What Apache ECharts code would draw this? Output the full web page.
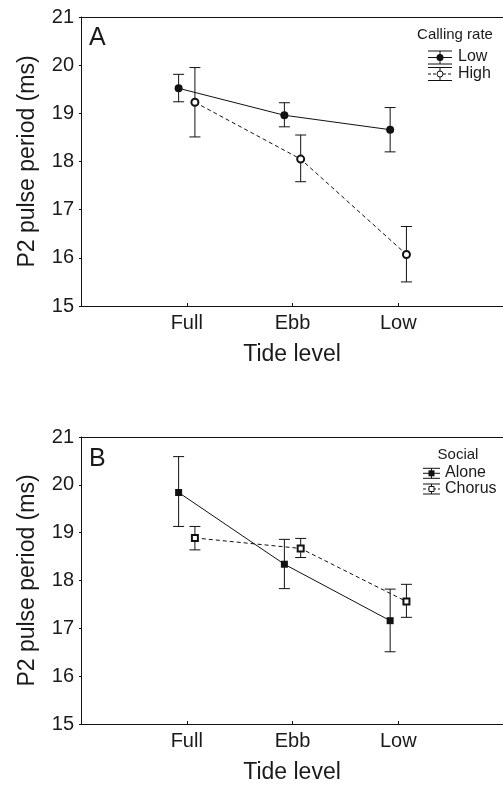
<!DOCTYPE html>
<html>
<head>
<meta charset="utf-8">
<script src="https://cdn.jsdelivr.net/npm/echarts@6/dist/echarts.min.js"></script>
<style>
html,body{margin:0;padding:0;background:#fff;}
#chart{width:503px;height:785px;}
</style>
</head>
<body>
<div id="chart"></div>
<script>
// ---- Data ----
var tideLevels = ['Full', 'Ebb', 'Low'];
var yTicks = [15, 16, 17, 18, 19, 20, 21];

// Panel A: Calling rate
var rateLowMean  = [19.52, 18.96, 18.66];
var rateLowUpper = [19.81, 19.22, 19.12];
var rateLowLower = [19.24, 18.72, 18.20];
var rateHighMean  = [19.23, 18.05, 16.07];
var rateHighUpper = [19.95, 18.55, 16.65];
var rateHighLower = [18.51, 17.58, 15.50];

// Panel B: Social
var aloneMean  = [19.84, 18.34, 17.16];
var aloneUpper = [20.59, 18.86, 17.82];
var aloneLower = [19.13, 17.83, 16.51];
var chorusMean  = [18.89, 18.67, 17.56];
var chorusUpper = [19.13, 18.88, 17.92];
var chorusLower = [18.64, 18.48, 17.23];

// ---- Build ----
var FONT = 'Liberation Sans, Arial, sans-serif';
var TXT = '#1a1a1a';
var OFF = 0.077;
var XMAX = 3.99; // plot is cut by the right edge of the figure

function pts(mean, off) {
  return mean.map(function (v, i) { return [i + 1 + off, v]; });
}
function bars(lo, hi, off) {
  return lo.map(function (v, i) { return [i + 1 + off, v, hi[i]]; });
}
function errRender(params, api) {
  var x = api.value(0);
  var p1 = api.coord([x, api.value(2)]);
  var p0 = api.coord([x, api.value(1)]);
  var w = 5.5;
  var st = { stroke: '#111', lineWidth: 1 };
  return {
    type: 'group',
    children: [
      { type: 'line', shape: { x1: p1[0], y1: p1[1], x2: p0[0], y2: p0[1] }, style: st },
      { type: 'line', shape: { x1: p1[0] - w, y1: p1[1], x2: p1[0] + w, y2: p1[1] }, style: st },
      { type: 'line', shape: { x1: p0[0] - w, y1: p0[1], x2: p0[0] + w, y2: p0[1] }, style: st }
    ]
  };
}

function xAxis(gi) {
  return {
    type: 'value', gridIndex: gi, min: 0, max: XMAX, interval: 1,
    name: 'Tide level', nameLocation: 'middle', nameGap: 37,
    nameTextStyle: { fontFamily: FONT, fontSize: 23, color: TXT },
    axisLine: { show: true, onZero: false, lineStyle: { color: '#111', width: 1 } },
    axisTick: { show: true, inside: true, length: 3, lineStyle: { color: '#111' } },
    axisLabel: {
      fontFamily: FONT, fontSize: 20, color: TXT, margin: 7, showMaxLabel: false,
      formatter: function (v) { return tideLevels[v - 1] || ''; }
    },
    splitLine: { show: false }
  };
}
function xAxisTop(gi) {
  return {
    type: 'value', gridIndex: gi, position: 'top', min: 0, max: XMAX,
    axisLine: { show: true, onZero: false, lineStyle: { color: '#111', width: 1 } },
    axisTick: { show: false }, axisLabel: { show: false }, splitLine: { show: false }
  };
}
function yAxis(gi) {
  return {
    type: 'value', gridIndex: gi, min: yTicks[0], max: yTicks[yTicks.length - 1], interval: 1,
    name: 'P2 pulse period (ms)', nameLocation: 'middle', nameGap: 42, nameRotate: 90,
    nameTextStyle: { fontFamily: FONT, fontSize: 23, color: TXT },
    axisLine: { show: true, lineStyle: { color: '#111', width: 1 } },
    axisTick: { show: true, length: 2, lineStyle: { color: '#111' } },
    axisLabel: { fontFamily: FONT, fontSize: 20, color: TXT, margin: 7 },
    splitLine: { show: false }
  };
}

var solid = { color: '#111', width: 1 };
var dashed = { color: '#111', width: 1, type: [4, 3] };

var series = [
  // Panel A
  { type: 'custom', xAxisIndex: 0, yAxisIndex: 0, renderItem: errRender, data: bars(rateLowLower, rateLowUpper, -OFF), z: 1 },
  { type: 'custom', xAxisIndex: 0, yAxisIndex: 0, renderItem: errRender, data: bars(rateHighLower, rateHighUpper, OFF), z: 1 },
  { type: 'line', name: 'Low', xAxisIndex: 0, yAxisIndex: 0, data: pts(rateLowMean, -OFF),
    symbol: 'circle', symbolSize: 8, lineStyle: solid, itemStyle: { color: '#111' }, z: 3 },
  { type: 'line', name: 'High', xAxisIndex: 0, yAxisIndex: 0, data: pts(rateHighMean, OFF),
    symbol: 'emptyCircle', symbolSize: 7, lineStyle: dashed, itemStyle: { color: '#111', borderColor: '#111', borderWidth: 1 }, z: 3 },
  // Panel B
  { type: 'custom', xAxisIndex: 2, yAxisIndex: 1, renderItem: errRender, data: bars(aloneLower, aloneUpper, -OFF), z: 1 },
  { type: 'custom', xAxisIndex: 2, yAxisIndex: 1, renderItem: errRender, data: bars(chorusLower, chorusUpper, OFF), z: 1 },
  { type: 'line', name: 'Alone', xAxisIndex: 2, yAxisIndex: 1, data: pts(aloneMean, -OFF),
    symbol: 'rect', symbolSize: 7, lineStyle: solid, itemStyle: { color: '#111' }, z: 3 },
  { type: 'line', name: 'Chorus', xAxisIndex: 2, yAxisIndex: 1, data: pts(chorusMean, OFF),
    symbol: 'emptyRect', symbolSize: 6, lineStyle: dashed, itemStyle: { color: '#111', borderColor: '#111', borderWidth: 1 }, z: 3 }
];

// Legend drawing helpers (graphic)
function hline(x1, x2, y, dash) {
  return { type: 'line', shape: { x1: x1, y1: y, x2: x2, y2: y },
    style: { stroke: '#111', lineWidth: 1, lineDash: dash ? [3, 2] : null } };
}
function vline(x, y1, y2) {
  return { type: 'line', shape: { x1: x, y1: y1, x2: x, y2: y2 }, style: { stroke: '#111', lineWidth: 1 } };
}
function legendIcon(x1, x2, yc, h, dash, marker) {
  var cx = (x1 + x2) / 2;
  var els = [hline(x1, x2, yc - h, false), hline(x1, x2, yc + h, false), hline(x1, x2, yc, dash), vline(cx, yc - h, yc + h)];
  if (marker === 'fc') els.push({ type: 'circle', shape: { cx: cx, cy: yc, r: 3.5 }, style: { fill: '#111' } });
  if (marker === 'oc') els.push({ type: 'circle', shape: { cx: cx, cy: yc, r: 3 }, style: { fill: '#fff', stroke: '#111', lineWidth: 1 } });
  if (marker === 'fs') els.push({ type: 'rect', shape: { x: cx - 3, y: yc - 3, width: 6, height: 6 }, style: { fill: '#111' } });
  if (marker === 'os') els.push({ type: 'rect', shape: { x: cx - 2.5, y: yc - 2.5, width: 5, height: 5 }, style: { fill: '#fff', stroke: '#111', lineWidth: 1 } });
  return els;
}
function txt(s, x, y, size, align) {
  return { type: 'text', x: x, y: y, style: { text: s, fontFamily: FONT, fontSize: size, fill: TXT, align: align || 'left', verticalAlign: 'middle' } };
}

var graphic = [].concat(
  [txt('A', 89, 38, 25), txt('B', 89, 459, 25)],
  [txt('Calling rate', 455, 35, 15, 'center'), txt('Low', 458, 57, 16), txt('High', 458, 74, 16)],
  legendIcon(428, 452, 57.5, 6.5, false, 'fc'),
  legendIcon(428, 452, 74, 6.5, true, 'oc'),
  [txt('Social', 458, 455, 15, 'center'), txt('Alone', 445, 473, 16), txt('Chorus', 445, 489, 16)],
  legendIcon(423, 440, 473.3, 5, false, 'fs'),
  legendIcon(423, 440, 489, 5, true, 'os')
);

var chart = echarts.init(document.getElementById('chart'), null, { renderer: 'canvas' });
chart.setOption({
  animation: false,
  backgroundColor: '#fff',
  textStyle: { fontFamily: FONT },
  grid: [
    { left: 81, top: 17, right: 0, height: 289, show: false },
    { left: 81, top: 437, right: 0, height: 289, show: false }
  ],
  xAxis: [xAxis(0), xAxisTop(0), xAxis(1), xAxisTop(1)],
  yAxis: [yAxis(0), yAxis(1)],
  series: series,
  graphic: { elements: graphic }
});
</script>
</body>
</html>
